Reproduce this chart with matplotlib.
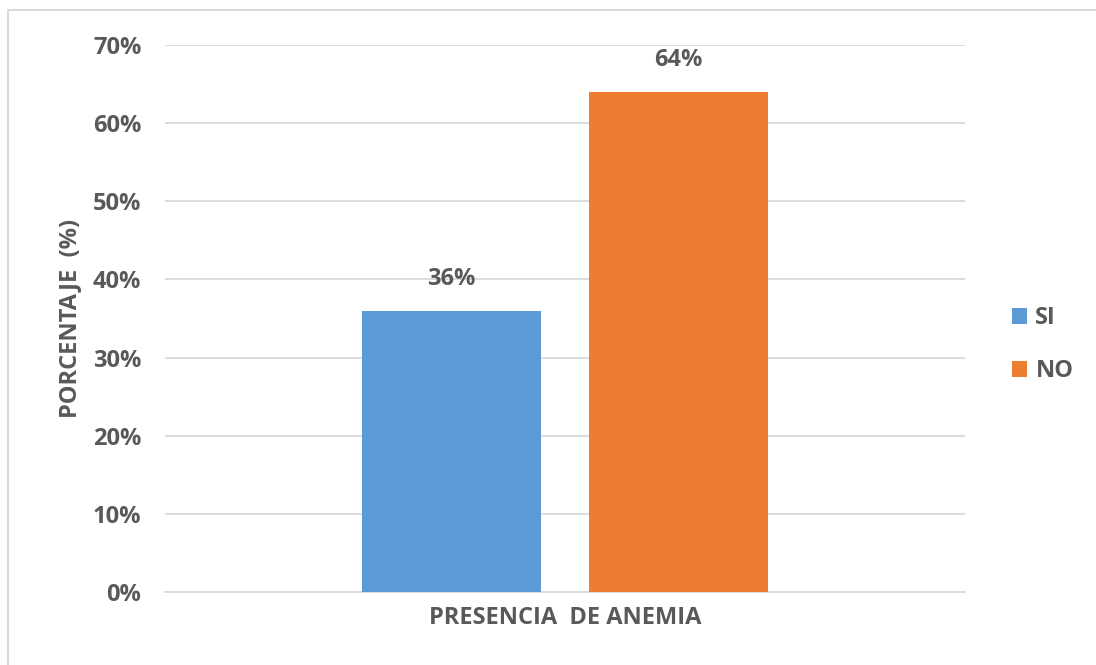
import matplotlib.pyplot as plt
from matplotlib.patches import Rectangle

# Presencia de anemia: porcentaje de casos
category = ['PRESENCIA  DE ANEMIA']
series = ['SI', 'NO']
values = [36, 64]
colors = ['#5B9BD5', '#ED7D31']
yticks = [0, 10, 20, 30, 40, 50, 60, 70]

text_color = '#595959'
fs = 17
plt.rcParams['font.family'] = ['Open Sans', 'DejaVu Sans']
plt.rcParams['font.weight'] = 'bold'

fig = plt.figure(figsize=(10.96, 6.65), dpi=100)
ax = fig.add_axes([0.1505, 0.1098, 0.7299, 0.8226])

# light frame around the chart (runs off the right and bottom edges)
fig.patches.append(Rectangle((8 / 1096, -0.05), 1, 1.05 - 10 / 665, transform=fig.transFigure,
                             fill=False, edgecolor='#d9d9d9', linewidth=1.5))

width = 0.224
offsets = [-0.1415, 0.1415]
for name, val, col, off in zip(series, values, colors, offsets):
    ax.bar(off, val, width=width, color=col, label=name, zorder=3)
    ax.annotate(f'{val}%', (off, val), xytext=(0, 14), textcoords='offset points',
                ha='center', va='bottom', fontsize=fs, fontweight='bold', color=text_color)

ax.set_xlim(-0.5, 0.5)
ax.set_ylim(0, 70)
ax.set_yticks(yticks)
ax.set_yticklabels([f'{t}%' for t in yticks])
ax.set_xticks([0])
ax.set_xticklabels(category)
ax.tick_params(axis='y', length=0, pad=17, labelsize=fs, labelcolor=text_color)
ax.tick_params(axis='x', length=0, pad=10, labelsize=fs, labelcolor=text_color)

ax.grid(axis='y', color='#d9d9d9', linewidth=1.3, zorder=0)
for side in ['top', 'right', 'left']:
    ax.spines[side].set_visible(False)
ax.spines['bottom'].set_color('#d9d9d9')
ax.spines['bottom'].set_linewidth(1.3)

ax.set_ylabel('PORCENTAJE  (%)', fontsize=fs, fontweight='bold', color=text_color, labelpad=8)

leg = ax.legend(loc='center left', bbox_to_anchor=(1.032, 0.452), frameon=False,
                handlelength=0.65, handleheight=0.65, handletextpad=0.35,
                labelspacing=1.25, fontsize=fs)
for t in leg.get_texts():
    t.set_color(text_color)

fig.savefig('out.png', dpi=100)
